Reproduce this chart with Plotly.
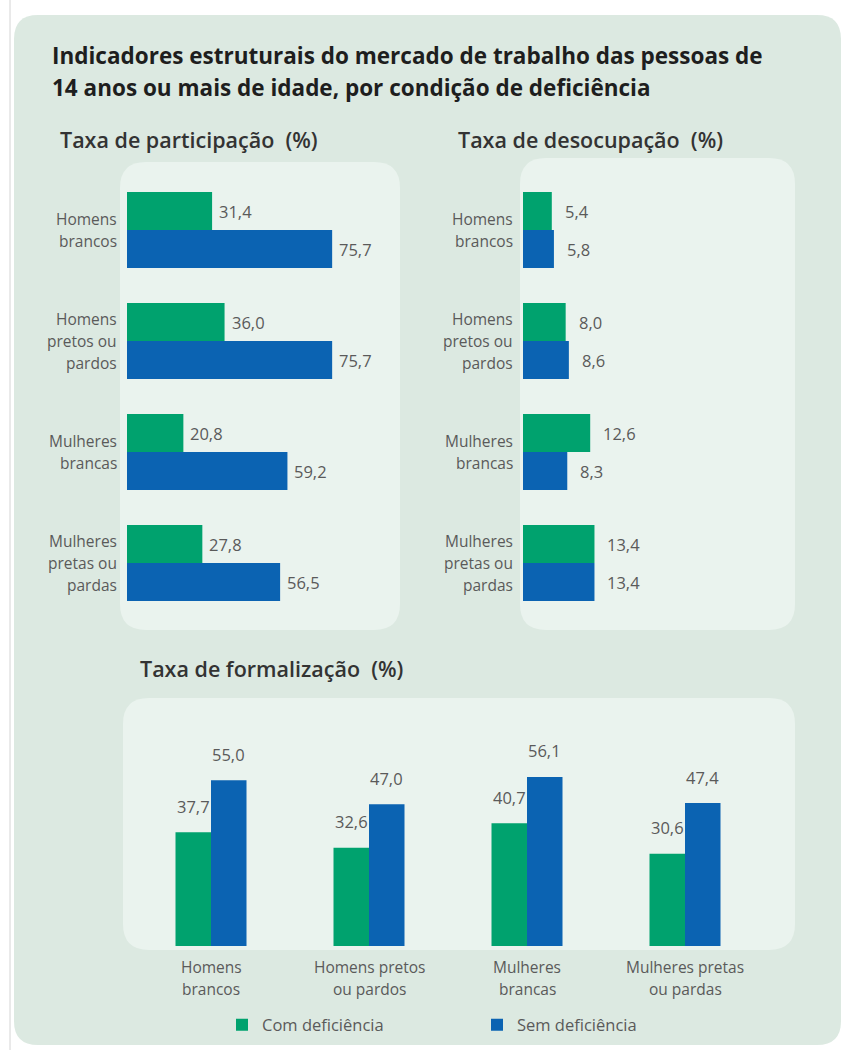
import plotly.graph_objects as go

# ---------------- data ----------------
categories = ["Homens brancos", "Homens pretos ou pardos", "Mulheres brancas", "Mulheres pretas ou pardas"]
labels_h_lines = [["Homens", "brancos"], ["Homens", "pretos ou", "pardos"],
                  ["Mulheres", "brancas"], ["Mulheres", "pretas ou", "pardas"]]
labels_v_lines = [["Homens", "brancos"], ["Homens pretos", "ou pardos"],
                  ["Mulheres", "brancas"], ["Mulheres pretas", "ou pardas"]]
series_names = ["Com deficiência", "Sem deficiência"]

participacao_com = [31.4, 36.0, 20.8, 27.8]
participacao_sem = [75.7, 75.7, 59.2, 56.5]
desocupacao_com = [5.4, 8.0, 12.6, 13.4]
desocupacao_sem = [5.8, 8.6, 8.3, 13.4]
formalizacao_com = [37.7, 32.6, 40.7, 30.6]
formalizacao_sem = [55.0, 47.0, 56.1, 47.4]

title_lines = ["Indicadores estruturais do mercado de trabalho das pessoas de",
               "14 anos ou mais de idade, por condição de deficiência"]
subtitles = ["Taxa de participação\u00a0 (%)", "Taxa de desocupação\u00a0 (%)",
             "Taxa de formalização\u00a0 (%)"]

# ---------------- style ----------------
W, H = 841, 1050
GREEN = "#00A26E"
BLUE = "#0B63B2"
OUTER = "#DCE9E1"
INNER = "#EAF3EE"
TXT = "#5A5A5A"
FONT = "Open Sans"


def fx(p):
    return p / W


def fy(p):
    return 1 - p / H


def fmt(v):
    return f"{v:.1f}".replace(".", ",")


def rrect(x0, y0, x1, y1, r):
    P = lambda x, y: f"{fx(x):.5f},{fy(y):.5f}"
    return (f"M {P(x0 + r, y0)} L {P(x1 - r, y0)} Q {P(x1, y0)} {P(x1, y0 + r)} "
            f"L {P(x1, y1 - r)} Q {P(x1, y1)} {P(x1 - r, y1)} "
            f"L {P(x0 + r, y1)} Q {P(x0, y1)} {P(x0, y1 - r)} "
            f"L {P(x0, y0 + r)} Q {P(x0, y0)} {P(x0 + r, y0)} Z")


WH = 38 / 111      # horizontal bar thickness in category units
WV = 35.5 / 158    # vertical bar width in category units

fig = go.Figure()

# Taxa de participação
fig.add_trace(go.Bar(orientation="h", x=participacao_com, y=categories, width=WH, offset=-WH,
                     marker=dict(color=GREEN, line=dict(width=0)), name=series_names[0],
                     legendgroup="com", showlegend=True, xaxis="x", yaxis="y", hoverinfo="x"))
fig.add_trace(go.Bar(orientation="h", x=participacao_sem, y=categories, width=WH, offset=0,
                     marker=dict(color=BLUE, line=dict(width=0)), name=series_names[1],
                     legendgroup="sem", showlegend=True, xaxis="x", yaxis="y", hoverinfo="x"))
# Taxa de desocupação
fig.add_trace(go.Bar(orientation="h", x=desocupacao_com, y=categories, width=WH, offset=-WH,
                     marker=dict(color=GREEN, line=dict(width=0)), name=series_names[0],
                     legendgroup="com", showlegend=False, xaxis="x2", yaxis="y2", hoverinfo="x"))
fig.add_trace(go.Bar(orientation="h", x=desocupacao_sem, y=categories, width=WH, offset=0,
                     marker=dict(color=BLUE, line=dict(width=0)), name=series_names[1],
                     legendgroup="sem", showlegend=False, xaxis="x2", yaxis="y2", hoverinfo="x"))
# Taxa de formalização
fig.add_trace(go.Bar(x=categories, y=formalizacao_com, width=WV, offset=-WV,
                     marker=dict(color=GREEN, line=dict(width=0)), name=series_names[0],
                     legendgroup="com", showlegend=False, xaxis="x3", yaxis="y3", hoverinfo="y"))
fig.add_trace(go.Bar(x=categories, y=formalizacao_sem, width=WV, offset=0,
                     marker=dict(color=BLUE, line=dict(width=0)), name=series_names[1],
                     legendgroup="sem", showlegend=False, xaxis="x3", yaxis="y3", hoverinfo="y"))

ann = []
lab_font = dict(family=FONT, size=15.5, color=TXT)
val_font = dict(family=FONT, size=16.5, color=TXT)

# value labels, horizontal charts
for xr, yr, com, sem, gap in [("x", "y", participacao_com, participacao_sem, 5),
                              ("x2", "y2", desocupacao_com, desocupacao_sem, 11)]:
    for i, (a, b) in enumerate(zip(com, sem)):
        ann.append(dict(x=a, y=i - WH / 2, xref=xr, yref=yr, text=fmt(a), showarrow=False,
                        xanchor="left", yanchor="middle", xshift=gap, font=val_font))
        ann.append(dict(x=b, y=i + WH / 2, xref=xr, yref=yr, text=fmt(b), showarrow=False,
                        xanchor="left", yanchor="middle", xshift=gap, font=val_font))
    # category labels
    for i, lines in enumerate(labels_h_lines):
        n = len(lines)
        for k, line in enumerate(lines):
            ann.append(dict(x=0, y=i, xref=xr + " domain", yref=yr, text=line, showarrow=False,
                            xanchor="right", yanchor="middle", xshift=-8,
                            yshift=((n - 1) / 2 - k) * 22, font=lab_font))

# value labels, vertical chart
for i, (a, b) in enumerate(zip(formalizacao_com, formalizacao_sem)):
    ann.append(dict(x=i - WV / 2, y=a, xref="x3", yref="y3", text=fmt(a), showarrow=False,
                    xanchor="center", yanchor="middle", yshift=26, font=val_font))
    ann.append(dict(x=i + WV / 2, y=b, xref="x3", yref="y3", text=fmt(b), showarrow=False,
                    xanchor="center", yanchor="middle", yshift=26, font=val_font))
for i, lines in enumerate(labels_v_lines):
    for k, line in enumerate(lines):
        ann.append(dict(x=i, y=0, xref="x3", yref="y3 domain", text=line, showarrow=False,
                        xanchor="center", yanchor="middle", yshift=-(21 + 22 * k), font=lab_font))

# title and subtitles
for k, (line, yc) in enumerate(zip(title_lines, [55, 88])):
    ann.append(dict(x=fx(50), y=fy(yc), xref="paper", yref="paper", text=line, showarrow=False,
                    xanchor="left", yanchor="middle",
                    font=dict(family=FONT, size=22.5, color="#1E1E1E", weight="bold")))
for txt, xp, yp in zip(subtitles, [58, 456, 138], [140, 140, 668]):
    ann.append(dict(x=fx(xp), y=fy(yp), xref="paper", yref="paper", text=txt, showarrow=False,
                    xanchor="left", yanchor="middle",
                    font=dict(family=FONT, size=21.5, color="#333333", weight=600)))

shapes = [
    dict(type="line", xref="paper", yref="paper", x0=fx(10), x1=fx(10), y0=0, y1=1,
         line=dict(color="#D4D4D4", width=1), layer="below"),
    dict(type="path", xref="paper", yref="paper", path=rrect(14, 15, 841, 1045, 24),
         fillcolor=OUTER, line=dict(width=0), layer="below"),
    dict(type="path", xref="paper", yref="paper", path=rrect(120, 162, 400, 630, 26),
         fillcolor=INNER, line=dict(width=0), layer="below"),
    dict(type="path", xref="paper", yref="paper", path=rrect(520, 158, 795, 630, 26),
         fillcolor=INNER, line=dict(width=0), layer="below"),
    dict(type="path", xref="paper", yref="paper", path=rrect(123, 698, 795, 950, 26),
         fillcolor=INNER, line=dict(width=0), layer="below"),
]

hidden = dict(showgrid=False, zeroline=False, showticklabels=False, showline=False,
              ticks="", fixedrange=True)
ydom_h = [fy(618.5), fy(174.5)]

fig.update_layout(
    width=W, height=H, autosize=False,
    margin=dict(l=0, r=0, t=0, b=0, pad=0),
    paper_bgcolor="white", plot_bgcolor="rgba(0,0,0,0)",
    barmode="overlay",
    font=dict(family=FONT, color=TXT),
    xaxis=dict(domain=[fx(127), fx(398)], range=[0, 100], anchor="y", **hidden),
    yaxis=dict(domain=ydom_h, range=[3.5, -0.5], type="category", anchor="x", **hidden),
    xaxis2=dict(domain=[fx(523), fx(795)], range=[0, 51], anchor="y2", **hidden),
    yaxis2=dict(domain=ydom_h, range=[3.5, -0.5], type="category", anchor="x2", **hidden),
    xaxis3=dict(domain=[fx(132), fx(764)], range=[-0.5, 3.5], type="category", anchor="y3", **hidden),
    yaxis3=dict(domain=[fy(946), fy(735)], range=[0, 70], anchor="x3", **hidden),
    legend=dict(orientation="h", x=fx(222), y=fy(1025), xanchor="left", yanchor="middle",
                bgcolor="rgba(0,0,0,0)", font=dict(family=FONT, size=16.5, color=TXT),
                entrywidth=210, entrywidthmode="pixels", traceorder="normal"),
    annotations=ann,
    shapes=shapes,
)

fig.write_html("out.html", config={"displayModeBar": False},
               post_script="document.body.style.margin='0';")
